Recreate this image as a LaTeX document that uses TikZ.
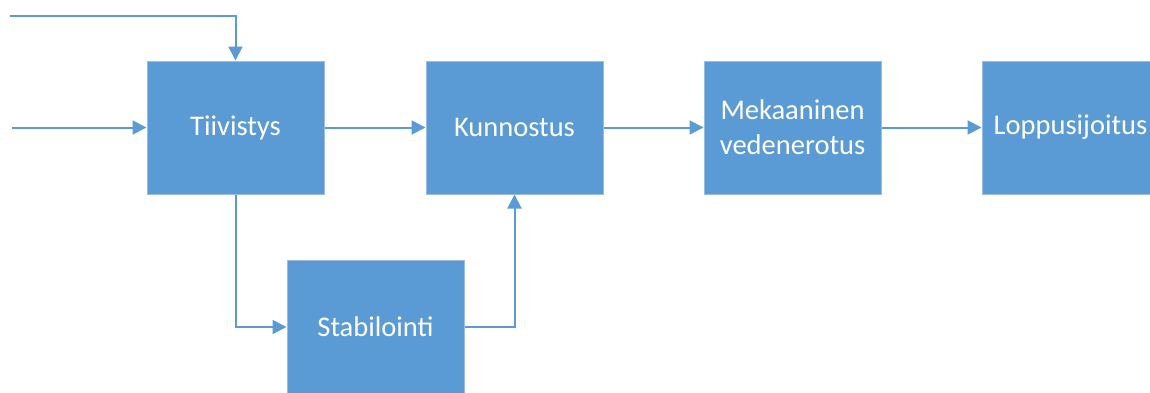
\documentclass[tikz,border=0pt]{standalone}
\usepackage{fontspec}
\setmainfont{Carlito}
\usetikzlibrary{arrows.meta}
\definecolor{boxblue}{HTML}{5B9BD5}
\definecolor{boxedge}{HTML}{9CBDE3}
\begin{document}
\begin{tikzpicture}[x=1pt,y=-1pt,
  procbox/.style={rectangle, fill=boxblue, draw=boxedge, line width=1pt,
    minimum width=177pt, minimum height=133pt, inner sep=0pt,
    text=white, align=center,
    font=\fontsize{28.5}{35}\selectfont},
  flow/.style={draw=boxblue, line width=2pt,
    -{Triangle[length=14pt,width=14pt]}}]
\useasboundingbox (0,0) rectangle (1150,392);
\clip (0,0) rectangle (1150,392);
\node[procbox] (t) at (235.5,127.5) {Tiivistys};
\node[procbox] (k) at (514.5,127.5) {Kunnostus};
\node[procbox] (m) at (792.5,127.5) {Mekaaninen\\vedenerotus};
\node[procbox] (l) at (1070.5,127.5) {Loppusijoitus};
\node[procbox] (s) at (375.5,327) {Stabilointi};
\coordinate (in1) at (12,127.5);
\coordinate (in2) at (10,16);
\draw[flow] (in1) -- (t.west);
\draw[flow] (in2) -| (t.north);
\draw[flow] (t.east) -- (k.west);
\draw[flow] (k.east) -- (m.west);
\draw[flow] (m.east) -- (l.west);
\draw[flow] (t.south) |- (s.west);
\draw[flow] (s.east) -| (k.south);
\end{tikzpicture}
\end{document}
